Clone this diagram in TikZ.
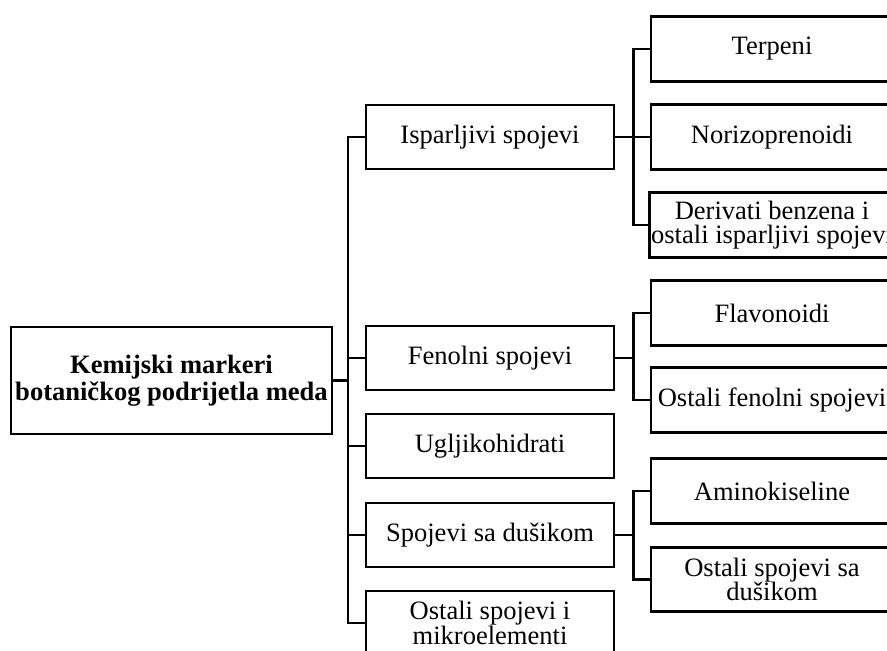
\documentclass[tikz,border=0pt]{standalone}
\usepackage{fontspec}
\setmainfont{Liberation Serif}
\usetikzlibrary{positioning}

\begin{document}
\begin{tikzpicture}[x=0.75pt, y=-0.75pt,
    box/.style={rectangle, draw=black, line width=2.1pt, align=center, inner sep=1pt,
        font=\fontsize{19.9}{18.2}\selectfont},
    rootbox/.style={box, minimum width=240.75pt, minimum height=80.25pt, font=\fontsize{19.9}{20.2}\selectfont\bfseries},
    groupbox/.style={box, minimum width=186pt, minimum height=48pt},
    leafbox/.style={box, minimum width=181.5pt, minimum height=48.5pt},
    link/.style={line width=2.1pt}
]

% Page frame
\useasboundingbox (0,0) rectangle (887,650);
\clip (0,0) rectangle (887,650);

% Root
\node[rootbox] (root) at (171.5,380.5) {Kemijski markeri\\botaničkog podrijetla meda};

% Main groups
\node[groupbox] (isp) at (490,137) {Isparljivi spojevi};
\node[groupbox] (fen) at (490,358) {Fenolni spojevi};
\node[groupbox] (ugl) at (490,446) {Ugljikohidrati};
\node[groupbox] (spo) at (490,535) {Spojevi sa dušikom};
\node[groupbox] (ost) at (490,623) {Ostali spojevi i\\mikroelementi};

% Volatile compounds
\node[leafbox] (ter) at (772,49) {Terpeni};
\node[leafbox] (nor) at (772,137) {Norizoprenoidi};
\node[leafbox] (der) at (772,225) {Derivati benzena i\\ostali isparljivi spojevi};

% Phenolic compounds
\node[leafbox] (fla) at (772,313) {Flavonoidi};
\node[leafbox] (ofe) at (772,400) {Ostali fenolni spojevi};

% Nitrogen compounds
\node[leafbox] (ami) at (772,491) {Aminokiseline};
\node[leafbox] (osd) at (772,579.5) {Ostali spojevi sa\\dušikom};

% Connectors from root
\coordinate (trunk) at (348,380.5);
\draw[link] (root.east) -- (trunk);
\foreach \n in {isp,fen,ugl,spo,ost}
    \draw[link] (trunk) |- (\n.west);

% Connectors to subgroups
\coordinate (ispj) at ([xshift=13.5pt]isp.east);
\draw[link] (isp.east) -- (ispj);
\foreach \n in {ter,nor,der}
    \draw[link] (ispj) |- (\n.west);

\coordinate (fenj) at ([xshift=13.5pt]fen.east);
\draw[link] (fen.east) -- (fenj);
\foreach \n in {fla,ofe}
    \draw[link] (fenj) |- (\n.west);

\coordinate (spoj) at ([xshift=13.5pt]spo.east);
\draw[link] (spo.east) -- (spoj);
\foreach \n in {ami,osd}
    \draw[link] (spoj) |- (\n.west);

\end{tikzpicture}
\end{document}
